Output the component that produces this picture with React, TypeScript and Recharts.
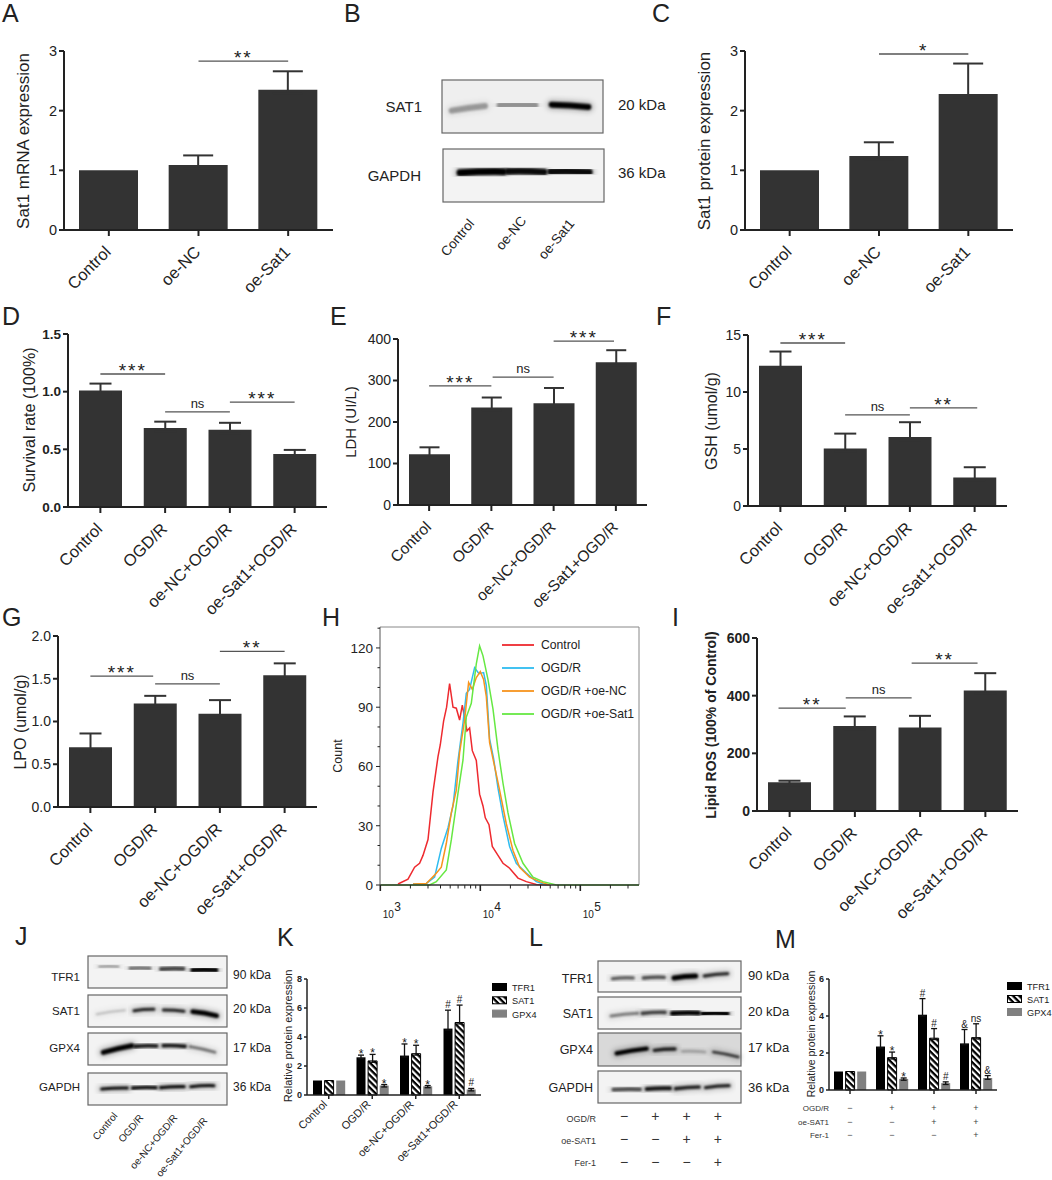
import {
  BarChart,
  Bar,
  ErrorBar,
  XAxis,
  YAxis,
  Label,
  LabelList,
  Legend,
  LineChart,
  Line,
  ReferenceLine,
} from "recharts";

const FONT = "'Liberation Sans', Arial, sans-serif";
const INK = "#222";
const BAR = "#333";

// labels
const threeGroups = ["Control", "oe-NC", "oe-Sat1"];
const fourGroups = ["Control", "OGD/R", "oe-NC+OGD/R", "oe-Sat1+OGD/R"];

// simple bar panels
const aValues = [1, 1.09, 2.35];
const aErrors = [0, 0.16, 0.31];
const cValues = [1, 1.24, 2.28];
const cErrors = [0, 0.23, 0.51];
const dValues = [1.01, 0.685, 0.67, 0.46];
const dErrors = [0.06, 0.055, 0.06, 0.035];
const eValues = [122, 235, 245, 344];
const eErrors = [17, 24, 37, 29];
const fValues = [12.3, 5.05, 6.05, 2.5];
const fErrors = [1.25, 1.3, 1.3, 0.9];
const gValues = [0.7, 1.21, 1.09, 1.54];
const gErrors = [0.16, 0.09, 0.16, 0.14];
const iValues = [100, 295, 290, 418];
const iErrors = [5, 33, 40, 60];

// significance bars: from / to in band units, height in data units
type Bracket = [number, number, number, string];
const aBrackets: Bracket[] = [[1.5, 2.5, 2.83, "**"]];
const cBrackets: Bracket[] = [[1.5, 2.5, 2.95, "*"]];
const dBrackets: Bracket[] = [
  [0.5, 1.5, 1.153, "***"],
  [1.5, 2.5, 0.825, "ns"],
  [2.5, 3.5, 0.91, "***"],
];
const eBrackets: Bracket[] = [
  [0.5, 1.5, 287, "***"],
  [1.52, 2.5, 308, "ns"],
  [2.5, 3.47, 395, "***"],
];
const fBrackets: Bracket[] = [
  [0.5, 1.5, 14.3, "***"],
  [1.5, 2.5, 8.0, "ns"],
  [2.5, 3.54, 8.6, "**"],
];
const gBrackets: Bracket[] = [
  [0.5, 1.47, 1.53, "***"],
  [1.5, 2.5, 1.44, "ns"],
  [2.5, 3.5, 1.82, "**"],
];
const iBrackets: Bracket[] = [
  [0.33, 1.36, 357, "**"],
  [1.36, 2.37, 392, "ns"],
  [2.37, 3.38, 513, "**"],
];

// K and M
const kTfr1 = [1, 2.6, 2.72, 4.58];
const kTfr1Err = [0, 0.15, 0.8, 1.27];
const kTfr1Marks = ["", "*", "*", "#"];
const kSat1 = [1, 2.35, 2.85, 5.0];
const kSat1Err = [0, 0.45, 0.58, 1.2];
const kSat1Marks = ["", "*", "*", "#"];
const kGpx4 = [1, 0.65, 0.6, 0.38];
const kGpx4Err = [0, 0.07, 0.05, 0.07];
const kGpx4Marks = ["", "*", "*", "#"];

const mTfr1 = [1, 2.35, 4.07, 2.52];
const mTfr1Err = [0, 0.58, 0.87, 0.75];
const mTfr1Marks = ["", "*", "#", "&"];
const mSat1 = [1, 1.75, 2.8, 2.83];
const mSat1Err = [0, 0.3, 0.52, 0.75];
const mSat1Marks = ["", "*", "#", "ns"];
const mGpx4 = [1, 0.6, 0.37, 0.65];
const mGpx4Err = [0, 0.05, 0.07, 0.13];
const mGpx4Marks = ["", "*", "#", "&"];

const tableRows = ["OGD/R", "oe-SAT1", "Fer-1"];
const tableSigns = [
  ["−", "+", "+", "+"],
  ["−", "−", "+", "+"],
  ["−", "−", "−", "+"],
];

// H histogram, [log10 intensity, count]
const redCurve = [
  [3.177, 0.5], [3.277, 3], [3.343, 9], [3.393, 11], [3.427, 15], [3.477, 23], [3.527, 47], [3.577, 65],
  [3.6, 71], [3.633, 83], [3.663, 90], [3.693, 102], [3.727, 90], [3.76, 89.5], [3.793, 83.5], [3.82, 91],
  [3.853, 82], [3.867, 78], [3.893, 79.5], [3.92, 68], [3.96, 63], [3.993, 46], [4.027, 40], [4.05, 34],
  [4.087, 30.5], [4.12, 19.5], [4.177, 15], [4.227, 11], [4.293, 8.5], [4.377, 3.5], [4.46, 1.7], [4.56, 0.3], [4.69, 0],
];
const blueCurve = [
  [3.327, 0.5], [3.46, 0.8], [3.543, 4], [3.61, 18.5], [3.677, 29], [3.727, 40], [3.777, 63], [3.827, 82],
  [3.86, 97], [3.893, 99], [3.943, 110], [3.987, 107], [4.033, 107.5], [4.06, 101], [4.093, 74], [4.133, 64],
  [4.177, 49], [4.227, 35], [4.293, 19.5], [4.36, 11], [4.46, 6], [4.56, 1.7], [4.66, 0],
];
const orangeCurve = [
  [3.327, 0.5], [3.46, 0.8], [3.543, 5], [3.61, 9], [3.66, 21], [3.71, 36.5], [3.76, 48], [3.793, 67],
  [3.843, 83.5], [3.883, 102.5], [3.92, 99], [3.96, 105], [4, 108], [4.033, 104], [4.06, 95.5], [4.093, 72],
  [4.143, 60], [4.193, 48], [4.26, 31], [4.327, 17.5], [4.393, 9], [4.493, 4], [4.593, 1.7], [4.693, 0],
];
const greenCurve = [
  [3, 0], [3.493, 0], [3.56, 1.7], [3.66, 7.6], [3.71, 22.8], [3.777, 46.5], [3.827, 63.3], [3.86, 85],
  [3.91, 92], [3.96, 112], [3.993, 121], [4.027, 116], [4.077, 104], [4.127, 89], [4.177, 68.5], [4.227, 51.5],
  [4.277, 36.5], [4.343, 21], [4.427, 11], [4.527, 4], [4.627, 1.7], [4.76, 0], [5.587, 0],
];
const curveNames = ["Control", "OGD/R", "OGD/R +oe-NC", "OGD/R +oe-Sat1"];
const curveColors = ["#ee2a2f", "#2ebcf0", "#f7941d", "#66e843"];
const countTicks = [0, 10, 20, 30, 40, 50, 60, 70, 80, 90, 100, 110, 120, 130];
const logTicks = [3, 3.301, 3.477, 3.602, 3.699, 3.778, 3.845, 3.903, 3.954, 4, 4.301, 4.477, 4.602, 4.699, 4.778, 4.845, 4.903, 4.954, 5, 5.301, 5.477];

// blots: x1, x2, y1, y2, strength, thickness in crop pixels (crops are 3x)
type Band = [number, number, number, number, number, number];
const bSat1: Band[] = [[335, 435, 332, 318, 0.32, 18], [480, 585, 316, 316, 0.34, 20], [635, 745, 314, 321, 1, 18]];
const bGapdh: Band[] = [[360, 490, 518, 515, 1, 21], [505, 612, 514, 516, 0.95, 20], [632, 748, 515, 516, 0.95, 20]];
const jRows: Band[][] = [
  [[298, 355, 140, 140, 0.35, 7], [390, 450, 145, 145, 0.55, 9], [483, 550, 147, 146, 0.7, 12], [578, 648, 150, 150, 1, 14]],
  [[290, 375, 283, 271, 0.2, 6], [402, 462, 272, 268, 0.85, 9], [490, 552, 270, 274, 0.85, 9], [578, 650, 275, 287, 1, 14]],
  [[310, 395, 397, 377, 1, 15], [405, 470, 379, 378, 0.9, 11], [490, 555, 377, 379, 0.9, 11], [570, 645, 380, 397, 0.5, 8]],
  [[305, 382, 507, 504, 0.95, 9], [398, 468, 504, 503, 0.95, 10], [482, 552, 503, 500, 0.95, 10], [572, 642, 500, 497, 0.95, 9]],
];
const lRows: Band[][] = [
  [[262, 325, 176, 174, 0.6, 9], [355, 418, 174, 172, 0.65, 10], [447, 512, 174, 168, 1, 15], [538, 608, 168, 161, 0.8, 10]],
  [[258, 338, 288, 280, 0.45, 9], [352, 420, 280, 277, 0.7, 11], [442, 520, 280, 279, 1, 14], [533, 607, 281, 281, 1, 14]],
  [[275, 365, 400, 386, 1, 13], [388, 450, 391, 387, 0.85, 10], [472, 540, 394, 396, 0.25, 8], [565, 640, 396, 411, 0.75, 8]],
  [[265, 345, 509, 508, 0.65, 11], [365, 435, 507, 505, 0.9, 12], [452, 522, 506, 501, 0.85, 11], [542, 612, 503, 497, 0.85, 10]],
];

const panelLetters: [string, number, number][] = [
  ["A", 2, 22], ["B", 344, 22], ["C", 652, 22], ["D", 2, 325], ["E", 330, 325], ["F", 656, 325], ["G", 2, 626],
  ["H", 322, 626], ["I", 672, 626], ["J", 15, 945], ["K", 277, 946], ["L", 529, 946], ["M", 775, 948],
];

function Blot({ x, y, w, h, ox, oy, bands, bg = "#f3f3f3" }: any) {
  return (
    <g>
      <rect x={x} y={y} width={w} height={h} fill={bg} />
      {bands.map((b: Band, i: number) => {
        const x1 = ox + b[0] / 3;
        const x2 = ox + b[1] / 3;
        const y1 = oy + b[2] / 3;
        const y2 = oy + b[3] / 3;
        const d = `M${x1} ${y1} Q${(x1 + x2) / 2} ${(y1 + y2) / 2 - 0.8} ${x2} ${y2}`;
        return (
          <g key={i} fill="none" strokeLinecap="round">
            <path d={d} stroke="#000" strokeOpacity={b[4] * 0.22} strokeWidth={b[5] / 3 + 5} filter="url(#blotHalo)" />
            <path d={d} stroke="#000" strokeOpacity={b[4]} strokeWidth={b[5] / 3} filter="url(#blotCore)" />
          </g>
        );
      })}
      <rect x={x} y={y} width={w} height={h} fill="none" stroke="#666" strokeWidth={1.2} />
    </g>
  );
}

function T({ x, y, size, anchor = "start", rot, fill = INK, children }: any) {
  return (
    <text
      x={x}
      y={y}
      fontSize={size}
      fontFamily={FONT}
      fill={fill}
      textAnchor={anchor}
      transform={rot ? `rotate(${rot} ${x} ${y})` : undefined}
    >
      {children}
    </text>
  );
}

// the picture parts that are not charts: letters and western blots
function Backdrop() {
  const jY = [956, 995, 1033, 1073];
  const lY = [961, 997, 1033, 1071];
  const lH = [31, 32, 33, 32];
  const names = ["TFR1", "SAT1", "GPX4", "GAPDH"];
  const kda = ["90 kDa", "20 kDa", "17 kDa", "36 kDa"];
  const jNameY = [981, 1015, 1052, 1091];
  const jKdaY = [979, 1013, 1052, 1091];
  const lNameY = [983, 1018, 1054, 1092];
  const lKdaY = [980, 1016, 1052, 1092];
  const jEnds: [number, number][] = [[118, 1116], [144, 1118], [178, 1118], [208, 1121]];
  const bEnds: [number, number][] = [[475, 224], [527, 221], [575, 224]];
  return (
    <svg width={1052} height={1180} style={{ position: "absolute", left: 0, top: 0 }}>
      <defs>
        <filter id="blotCore" x="-30%" y="-300%" width="160%" height="700%">
          <feGaussianBlur stdDeviation={1.1} />
        </filter>
        <filter id="blotHalo" x="-30%" y="-400%" width="160%" height="900%">
          <feGaussianBlur stdDeviation={2.6} />
        </filter>
      </defs>
      {panelLetters.map(([s, x, y]) => (
        <T key={s} x={x} y={y} size={25}>{s}</T>
      ))}

      <Blot x={442} y={80} w={161} h={53} ox={340} oy={0} bands={bSat1} bg="#efefef" />
      <Blot x={443} y={149} w={161} h={53} ox={340} oy={0} bands={bGapdh} />
      <T x={422} y={112} size={15} anchor="end">SAT1</T>
      <T x={421} y={181} size={15} anchor="end">GAPDH</T>
      <T x={618} y={110} size={15}>20 kDa</T>
      <T x={618} y={178} size={15}>36 kDa</T>
      {threeGroups.map((s, i) => (
        <T key={s} x={bEnds[i][0]} y={bEnds[i][1]} size={13.5} anchor="end" rot={-50}>{s}</T>
      ))}

      {jRows.map((bands, i) => (
        <Blot key={i} x={88} y={jY[i]} w={139} h={32} ox={0} oy={920} bands={bands} />
      ))}
      {names.map((s, i) => (
        <T key={s} x={80} y={jNameY[i]} size={11.5} anchor="end">{s}</T>
      ))}
      {kda.map((s, i) => (
        <T key={s} x={233} y={jKdaY[i]} size={12}>{s}</T>
      ))}
      {fourGroups.map((s, i) => (
        <T key={s} x={jEnds[i][0]} y={jEnds[i][1]} size={10} anchor="end" rot={-50}>{s}</T>
      ))}

      {lRows.map((bands, i) => (
        <Blot key={i} x={598} y={lY[i]} w={143} h={lH[i]} ox={525} oy={920} bands={bands} bg={i === 2 ? "#d9d9d9" : "#f3f3f3"} />
      ))}
      {names.map((s, i) => (
        <T key={s} x={593} y={lNameY[i]} size={12.5} anchor="end">{s}</T>
      ))}
      {kda.map((s, i) => (
        <T key={s} x={748} y={lKdaY[i]} size={13}>{s}</T>
      ))}
      {tableRows.map((s, r) => (
        <g key={s}>
          <T x={596} y={1122 + r * 22} size={9} anchor="end" fill="#333">{s}</T>
          {tableSigns[r].map((g, c) => (
            <T key={c} x={624 + c * 31.3} y={1121 + r * 23} size={14} anchor="middle" fill="#333">{g}</T>
          ))}
        </g>
      ))}
    </svg>
  );
}

function RotTick({ x, y, payload, size, dx = 3, dy = 15 }: any) {
  return (
    <text
      x={x + dx}
      y={y + dy}
      fontSize={size}
      fontFamily={FONT}
      fill={INK}
      textAnchor="end"
      transform={`rotate(-45 ${x + dx} ${y + dy})`}
    >
      {payload.value}
    </text>
  );
}

function bracketLabel(text: string) {
  return ({ viewBox }: any) => {
    const star = text.includes("*");
    return (
      <text
        x={viewBox.x + viewBox.width / 2}
        y={viewBox.y + (star ? 3 : -4)}
        textAnchor="middle"
        fontFamily={FONT}
        fontSize={star ? 19 : 13}
        letterSpacing={star ? 2 : 0}
        fill={INK}
      >
        {text}
      </text>
    );
  };
}

function BarPanel({
  labels, values, errors, brackets, axisX, top, bottom, right, barSize, domainMax, ticks, decimals = 0,
  boldTicks = false, tickSize = 14, labelSize = 16.5, capHalf = 11, yLabel, yLabelX, yLabelY, yLabelSize, yLabelBold = false,
}: any) {
  const pad = 70;
  const below = 120;
  // lower arm kept inside the bar so no cap shows on the bar top
  const data = labels.map((name: string, i: number) => ({
    name,
    pos: i + 0.5,
    value: values[i],
    err: errors[i] ? [domainMax * 0.02, errors[i]] : undefined,
  }));
  const chartTop = top - 22;
  return (
    <div style={{ position: "absolute", left: axisX - pad, top: chartTop }}>
      <BarChart
        width={right - axisX + pad + 10}
        height={bottom - top + 22 + below}
        data={data}
        margin={{ top: 22, right: 10, left: 0, bottom: 0 }}
      >
        <XAxis
          dataKey="name"
          height={below}
          interval={0}
          tickSize={6}
          axisLine={{ stroke: INK, strokeWidth: 2 }}
          tickLine={{ stroke: INK, strokeWidth: 2 }}
          tick={(p: any) => <RotTick {...p} size={labelSize} />}
        />
        <XAxis xAxisId="pos" dataKey="pos" type="number" domain={[0, labels.length]} allowDataOverflow hide />
        <YAxis
          width={pad}
          domain={[0, domainMax]}
          ticks={ticks}
          interval={0}
          tickSize={5}
          tickMargin={2}
          axisLine={{ stroke: INK, strokeWidth: 2 }}
          tickLine={{ stroke: INK, strokeWidth: 2 }}
          tick={{ fontSize: tickSize, fontFamily: FONT, fill: INK, fontWeight: boldTicks ? 700 : 400 }}
          tickFormatter={(v: number) => v.toFixed(decimals)}
        >
          <Label
            content={() => (
              <text
                x={yLabelX - (axisX - pad)}
                y={yLabelY - chartTop}
                textAnchor="middle"
                dominantBaseline="central"
                fontFamily={FONT}
                fontSize={yLabelSize}
                fontWeight={yLabelBold ? 700 : 400}
                fill={INK}
                transform={`rotate(-90 ${yLabelX - (axisX - pad)} ${yLabelY - chartTop})`}
              >
                {yLabel}
              </text>
            )}
          />
        </YAxis>
        <Bar dataKey="value" fill={BAR} barSize={barSize} isAnimationActive={false}>
          <ErrorBar dataKey="err" direction="y" width={capHalf} stroke={BAR} strokeWidth={2} isAnimationActive={false} />
        </Bar>
        {brackets.map((b: Bracket, i: number) => (
          <ReferenceLine
            key={i}
            xAxisId="pos"
            segment={[{ x: b[0], y: b[2] }, { x: b[1], y: b[2] }]}
            stroke="#555"
            strokeWidth={1.3}
            ifOverflow="visible"
            label={{ content: bracketLabel(b[3]) } as any}
          />
        ))}
      </BarChart>
    </div>
  );
}

function markLabel(errs: number[], perUnit: number) {
  return ({ x, y, width, value, index }: any) => {
    if (!value) return null;
    const errTop = y - errs[index] * perUnit;
    const star = value === "*";
    return (
      <text
        x={x + width / 2}
        y={errTop + (star ? 3 : -2)}
        textAnchor="middle"
        fontFamily={FONT}
        fontSize={star ? 12 : 10}
        fill={INK}
      >
        {value}
      </text>
    );
  };
}

const legendNames = ["TFR1", "SAT1", "GPX4"];

function GroupPanel({
  id, series, errs, marks, labels, axisX, top, bottom, right, chartEnd, domainMax, ticks, yLabelX, yLabelY, yLabelSize,
  legendLeft, legendTop, legendGap, table,
}: any) {
  const pad = 50;
  const chartTop = top - 12;
  const perUnit = (bottom - top) / domainMax;
  const arm = (e: number) => (e ? [domainMax * 0.012, e] : undefined);
  const data = labels.map((name: string, i: number) => ({
    name,
    a: series[0][i],
    b: series[1][i],
    c: series[2][i],
    aErr: arm(errs[0][i]),
    bErr: arm(errs[1][i]),
    cErr: arm(errs[2][i]),
    aMark: marks[0][i],
    bMark: marks[1][i],
    cMark: marks[2][i],
  }));
  const errProps = { direction: "y" as const, width: 3, stroke: "#111", strokeWidth: 1.3, isAnimationActive: false };
  const stripe = `url(#stripe${id})`;
  const fills = ["#000", stripe, "#808080"];
  return (
    <div style={{ position: "absolute", left: axisX - pad, top: chartTop }}>
      <BarChart
        width={chartEnd - axisX + pad}
        height={bottom - top + 12 + 85}
        data={data}
        barSize={9}
        barGap={2.6}
        margin={{ top: 12, right: chartEnd - right, left: 0, bottom: 0 }}
      >
        <defs>
          <pattern id={`stripe${id}`} width={4.4} height={4.4} patternUnits="userSpaceOnUse" patternTransform="rotate(45)">
            <rect width={4.4} height={4.4} fill="#fff" />
            <rect width={4.4} height={2.3} fill="#000" />
          </pattern>
        </defs>
        <XAxis
          dataKey="name"
          height={85}
          interval={0}
          tickSize={4}
          axisLine={{ stroke: INK, strokeWidth: 1.5 }}
          tickLine={{ stroke: INK, strokeWidth: 1.5 }}
          tick={
            table
              ? (p: any) => (
                  <g>
                    {tableSigns.map((row, r) => (
                      <text
                        key={r}
                        x={p.x}
                        y={p.y + 15 + r * 13.6}
                        fontSize={9}
                        fontFamily={FONT}
                        fill="#444"
                        textAnchor="middle"
                      >
                        {row[p.index]}
                      </text>
                    ))}
                  </g>
                )
              : (p: any) => <RotTick {...p} size={11} dx={-1} dy={4} />
          }
        />
        <YAxis
          width={pad}
          domain={[0, domainMax]}
          ticks={ticks}
          interval={0}
          tickSize={3}
          tickMargin={2}
          axisLine={{ stroke: INK, strokeWidth: 1.5 }}
          tickLine={{ stroke: INK, strokeWidth: 1.5 }}
          tick={{ fontSize: 9, fontFamily: FONT, fill: INK, fontWeight: 700 }}
        >
          <Label
            content={() => (
              <text
                x={yLabelX - (axisX - pad)}
                y={yLabelY - chartTop}
                textAnchor="middle"
                dominantBaseline="central"
                fontFamily={FONT}
                fontSize={yLabelSize}
                fill={INK}
                transform={`rotate(-90 ${yLabelX - (axisX - pad)} ${yLabelY - chartTop})`}
              >
                Relative protein expression
              </text>
            )}
          />
        </YAxis>
        <Legend
          layout="vertical"
          align="center"
          verticalAlign="middle"
          wrapperStyle={{ left: legendLeft - (axisX - pad), top: legendTop - chartTop, width: 45, height: 50 }}
          content={() => (
            <svg width={45} height={50}>
              {legendNames.map((s, i) => (
                <g key={s}>
                  <rect x={0.5} y={i * legendGap + 0.5} width={14} height={7} fill={fills[i]} stroke={i === 2 ? "#808080" : "#000"} />
                  <text x={20} y={i * legendGap + 8} fontSize={9.2} fontFamily={FONT} fill={INK}>{s}</text>
                </g>
              ))}
            </svg>
          )}
        />
        <Bar dataKey="a" fill={fills[0]} isAnimationActive={false}>
          <ErrorBar dataKey="aErr" {...errProps} />
          <LabelList dataKey="aMark" content={markLabel(errs[0], perUnit)} />
        </Bar>
        <Bar dataKey="b" fill={fills[1]} stroke="#000" strokeWidth={1} isAnimationActive={false}>
          <ErrorBar dataKey="bErr" {...errProps} />
          <LabelList dataKey="bMark" content={markLabel(errs[1], perUnit)} />
        </Bar>
        <Bar dataKey="c" fill={fills[2]} isAnimationActive={false}>
          <ErrorBar dataKey="cErr" {...errProps} />
          <LabelList dataKey="cMark" content={markLabel(errs[2], perUnit)} />
        </Bar>
      </BarChart>
    </div>
  );
}

function CountTick({ x, y, payload }: any) {
  const major = payload.value % 30 === 0;
  return (
    <g>
      <line x1={x} x2={x - (major ? 4 : 2.5)} y1={y} y2={y} stroke="#222" strokeWidth={1} />
      {major && (
        <text x={x - 7} y={y + 5} textAnchor="end" fontSize={13.5} fontFamily={FONT} fill={INK}>
          {payload.value}
        </text>
      )}
    </g>
  );
}

function LogTick({ x, y, payload }: any) {
  const major = Number.isInteger(payload.value);
  return (
    <g>
      <line x1={x} x2={x} y1={y} y2={y + (major ? 6 : 3.5)} stroke="#222" strokeWidth={major ? 1.6 : 1} />
      {major && (
        <g fontFamily={FONT} fill={INK}>
          <text x={x + 8} y={y + 33} fontSize={10} textAnchor="middle">10</text>
          <text x={x + 14} y={y + 26} fontSize={12}>{payload.value}</text>
        </g>
      )}
    </g>
  );
}

function HistogramPanel() {
  const curves = [redCurve, blueCurve, orangeCurve, greenCurve];
  const left = 380;
  const top = 627;
  const pad = 55;
  const chartLeft = left - pad;
  const chartTop = top - 5;
  return (
    <div style={{ position: "absolute", left: chartLeft, top: chartTop }}>
      <LineChart width={320} height={305} margin={{ top: 5, right: 6, left: 0, bottom: 0 }}>
        <XAxis
          type="number"
          dataKey="x"
          domain={[2.997, 5.587]}
          ticks={logTicks}
          interval={0}
          height={42}
          tickLine={false}
          tickSize={0}
          tickMargin={0}
          axisLine={{ stroke: "#333", strokeWidth: 1.6 }}
          tick={(p: any) => <LogTick {...p} />}
        />
        <YAxis
          type="number"
          width={pad}
          domain={[0, 130.6]}
          ticks={countTicks}
          interval={0}
          tickLine={false}
          tickSize={0}
          tickMargin={0}
          axisLine={{ stroke: "#555", strokeWidth: 1 }}
          tick={(p: any) => <CountTick {...p} />}
        >
          <Label
            content={() => (
              <text
                x={338 - chartLeft}
                y={756 - chartTop}
                textAnchor="middle"
                dominantBaseline="central"
                fontSize={12.5}
                fontFamily={FONT}
                fill={INK}
                transform={`rotate(-90 ${338 - chartLeft} ${756 - chartTop})`}
              >
                Count
              </text>
            )}
          />
        </YAxis>
        <ReferenceLine y={130.6} stroke="#888" strokeWidth={1} />
        <ReferenceLine x={5.587} stroke="#888" strokeWidth={1} />
        <Legend
          layout="vertical"
          align="center"
          verticalAlign="middle"
          wrapperStyle={{ left: 502 - chartLeft, top: 636 - chartTop, width: 140, height: 90 }}
          content={() => (
            <svg width={140} height={90}>
              {curveNames.map((s, i) => (
                <g key={s}>
                  <line x1={0} x2={32} y1={9 + i * 23} y2={9 + i * 23} stroke={curveColors[i]} strokeWidth={1.8} />
                  <text x={39} y={13 + i * 23} fontSize={12.2} fontFamily={FONT} fill={INK}>{s}</text>
                </g>
              ))}
            </svg>
          )}
        />
        {curves.map((c, i) => (
          <Line
            key={curveNames[i]}
            data={c.map(([x, y]) => ({ x, y }))}
            dataKey="y"
            type="linear"
            stroke={curveColors[i]}
            strokeWidth={1.5}
            dot={false}
            isAnimationActive={false}
          />
        ))}
      </LineChart>
    </div>
  );
}

export default function App() {
  return (
    <div style={{ position: "absolute", left: 0, top: 0, width: 1052, height: 1180, background: "#fff", overflow: "hidden" }}>
      <Backdrop />
      <BarPanel
        labels={threeGroups} values={aValues} errors={aErrors} brackets={aBrackets} capHalf={15}
        axisX={64} top={51} bottom={230} right={333} barSize={59} domainMax={3} ticks={[0, 1, 2, 3]}
        tickSize={14.5} yLabel="Sat1 mRNA expression" yLabelX={23} yLabelY={141} yLabelSize={17}
      />
      <BarPanel
        labels={threeGroups} values={cValues} errors={cErrors} brackets={cBrackets} capHalf={15}
        axisX={745} top={51} bottom={230} right={1013} barSize={59} domainMax={3} ticks={[0, 1, 2, 3]}
        tickSize={14.5} yLabel="Sat1 protein expression" yLabelX={704} yLabelY={141} yLabelSize={17}
      />
      <BarPanel
        labels={fourGroups} values={dValues} errors={dErrors} brackets={dBrackets}
        axisX={68} top={334} bottom={507} right={327} barSize={43} domainMax={1.5} ticks={[0, 0.5, 1, 1.5]} decimals={1}
        boldTicks tickSize={13.5} yLabel="Survival rate (100%)" yLabelX={29} yLabelY={420} yLabelSize={16}
      />
      <BarPanel
        labels={fourGroups} values={eValues} errors={eErrors} brackets={eBrackets} capHalf={10}
        axisX={398} top={339} bottom={505} right={647} barSize={41} domainMax={400} ticks={[0, 100, 200, 300, 400]}
        labelSize={15.5} yLabel="LDH (UI/L)" yLabelX={350} yLabelY={422} yLabelSize={15}
      />
      <BarPanel
        labels={fourGroups} values={fValues} errors={fErrors} brackets={fBrackets}
        axisX={748} top={335} bottom={506} right={1007} barSize={43} domainMax={15} ticks={[0, 5, 10, 15]}
        yLabel="GSH (umol/g)" yLabelX={711} yLabelY={421} yLabelSize={16}
      />
      <BarPanel
        labels={fourGroups} values={gValues} errors={gErrors} brackets={gBrackets}
        axisX={58} top={636} bottom={807} right={317} barSize={43} domainMax={2} ticks={[0, 0.5, 1, 1.5, 2]} decimals={1}
        yLabel="LPO (umol/g)" yLabelX={20} yLabelY={722} yLabelSize={16}
      />
      <HistogramPanel />
      <BarPanel
        labels={fourGroups} values={iValues} errors={iErrors} brackets={iBrackets}
        axisX={757} top={638} bottom={811} right={1018} barSize={43} domainMax={600} ticks={[0, 200, 400, 600]}
        boldTicks yLabel="Lipid ROS (100% of Control)" yLabelX={711} yLabelY={725} yLabelSize={14} yLabelBold
      />
      <GroupPanel
        id="K" labels={fourGroups} series={[kTfr1, kSat1, kGpx4]} errs={[kTfr1Err, kSat1Err, kGpx4Err]}
        marks={[kTfr1Marks, kSat1Marks, kGpx4Marks]}
        axisX={307} top={979} bottom={1095} right={481} chartEnd={540} domainMax={8} ticks={[0, 2, 4, 6, 8]}
        yLabelX={288} yLabelY={1036} yLabelSize={11} legendLeft={492} legendTop={983} legendGap={13.3}
      />
      <GroupPanel
        id="M" table labels={fourGroups} series={[mTfr1, mSat1, mGpx4]} errs={[mTfr1Err, mSat1Err, mGpx4Err]}
        marks={[mTfr1Marks, mSat1Marks, mGpx4Marks]}
        axisX={829} top={979} bottom={1090} right={997} chartEnd={1052} domainMax={6} ticks={[0, 2, 4, 6]}
        yLabelX={811} yLabelY={1034} yLabelSize={10.5} legendLeft={1007} legendTop={982} legendGap={13}
      />
      <svg width={1052} height={1180} style={{ position: "absolute", left: 0, top: 0, pointerEvents: "none" }}>
        {tableRows.map((s, r) => (
          <T key={s} x={829} y={1111 + r * 13.6} size={8} anchor="end" fill="#333">{s}</T>
        ))}
      </svg>
    </div>
  );
}
